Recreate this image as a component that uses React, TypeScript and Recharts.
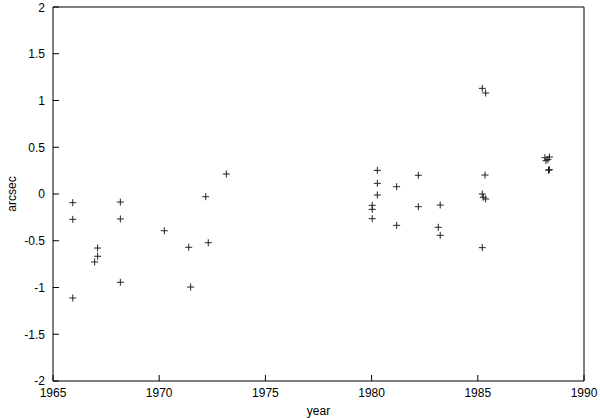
import React from 'react';
import { ScatterChart, Scatter, XAxis, YAxis } from 'recharts';

const years = [
  1965.93, 1965.93, 1965.93, 1966.96, 1967.1, 1967.1, 1968.17, 1968.17, 1968.17,
  1970.24, 1971.39, 1971.48, 1972.19, 1972.31, 1973.16,
  1980.03, 1980.03, 1980.03, 1980.27, 1980.27, 1980.27, 1981.18, 1981.18,
  1982.2, 1982.2, 1983.14, 1983.23, 1983.23,
  1985.21, 1985.37, 1985.34, 1985.21, 1985.26, 1985.37, 1985.21,
  1988.16, 1988.37, 1988.21, 1988.3, 1988.37, 1988.33,
];
const arcsec = [
  -0.093, -0.271, -1.112, -0.727, -0.578, -0.666, -0.086, -0.267, -0.944,
  -0.393, -0.57, -0.995, -0.029, -0.521, 0.214,
  -0.121, -0.164, -0.264, 0.253, 0.114, -0.011, 0.078, -0.335,
  0.2, -0.136, -0.356, -0.118, -0.442,
  1.13, 1.08, 0.203, 0, -0.035, -0.053, -0.574,
  0.388, 0.396, 0.356, 0.37, 0.26, 0.255,
];
const xTicks = [1965, 1970, 1975, 1980, 1985, 1990];
const yTicks = [-2, -1.5, -1, -0.5, 0, 0.5, 1, 1.5, 2];

const data = years.map((x, i) => ({ x, y: arcsec[i] }));

const font = { fontFamily: '"Liberation Sans", Arial, sans-serif', fontSize: 12, fill: '#000' };

const Plus = (props: any) => {
  const { cx, cy } = props;
  return (
    <g stroke="#222" strokeWidth={1}>
      <line x1={cx - 3.5} y1={cy} x2={cx + 3.5} y2={cy} />
      <line x1={cx} y1={cy - 3.5} x2={cx} y2={cy + 3.5} />
    </g>
  );
};

export default function App() {
  return (
    <div style={{ position: 'absolute', left: 0, top: 0, width: 600, height: 418, background: '#fff' }}>
      <ScatterChart width={600} height={418} margin={{ top: 6, right: 15, left: 0, bottom: 0 }}>
        <XAxis
          dataKey="x"
          type="number"
          domain={[1965, 1990]}
          ticks={xTicks}
          allowDataOverflow
          height={37}
          tickSize={-6}
          tickMargin={13}
          axisLine={{ stroke: '#000' }}
          tickLine={{ stroke: '#000' }}
          tick={font}
          label={{ value: 'year', position: 'insideBottom', offset: 3, style: font }}
        />
        <XAxis
          xAxisId="top"
          dataKey="x"
          orientation="top"
          type="number"
          domain={[1965, 1990]}
          ticks={xTicks}
          allowDataOverflow
          height={1}
          tickSize={-6}
          tick={false}
          axisLine={{ stroke: '#000' }}
          tickLine={{ stroke: '#000' }}
        />
        <YAxis
          dataKey="y"
          type="number"
          domain={[-2, 2]}
          ticks={yTicks}
          allowDataOverflow
          width={53}
          tickSize={-6}
          tickMargin={14}
          axisLine={{ stroke: '#000' }}
          tickLine={{ stroke: '#000' }}
          tick={font}
          label={{
            value: 'arcsec',
            content: (p: any) => {
              const vb = p.viewBox || {};
              const cx = 12;
              const cy = (vb.y || 0) + (vb.height || 0) / 2;
              return (
                <text x={cx} y={cy} transform={`rotate(-90, ${cx}, ${cy})`} textAnchor="middle" dominantBaseline="central" style={font}>
                  arcsec
                </text>
              );
            },
          }}
        />
        <YAxis
          yAxisId="right"
          dataKey="y"
          orientation="right"
          type="number"
          domain={[-2, 2]}
          ticks={yTicks}
          allowDataOverflow
          width={1}
          tickSize={-6}
          tick={false}
          axisLine={{ stroke: '#000' }}
          tickLine={{ stroke: '#000' }}
        />
        <Scatter data={data} shape={<Plus />} isAnimationActive={false} />
        <Scatter data={[]} xAxisId="top" yAxisId="right" isAnimationActive={false} />
      </ScatterChart>
    </div>
  );
}
